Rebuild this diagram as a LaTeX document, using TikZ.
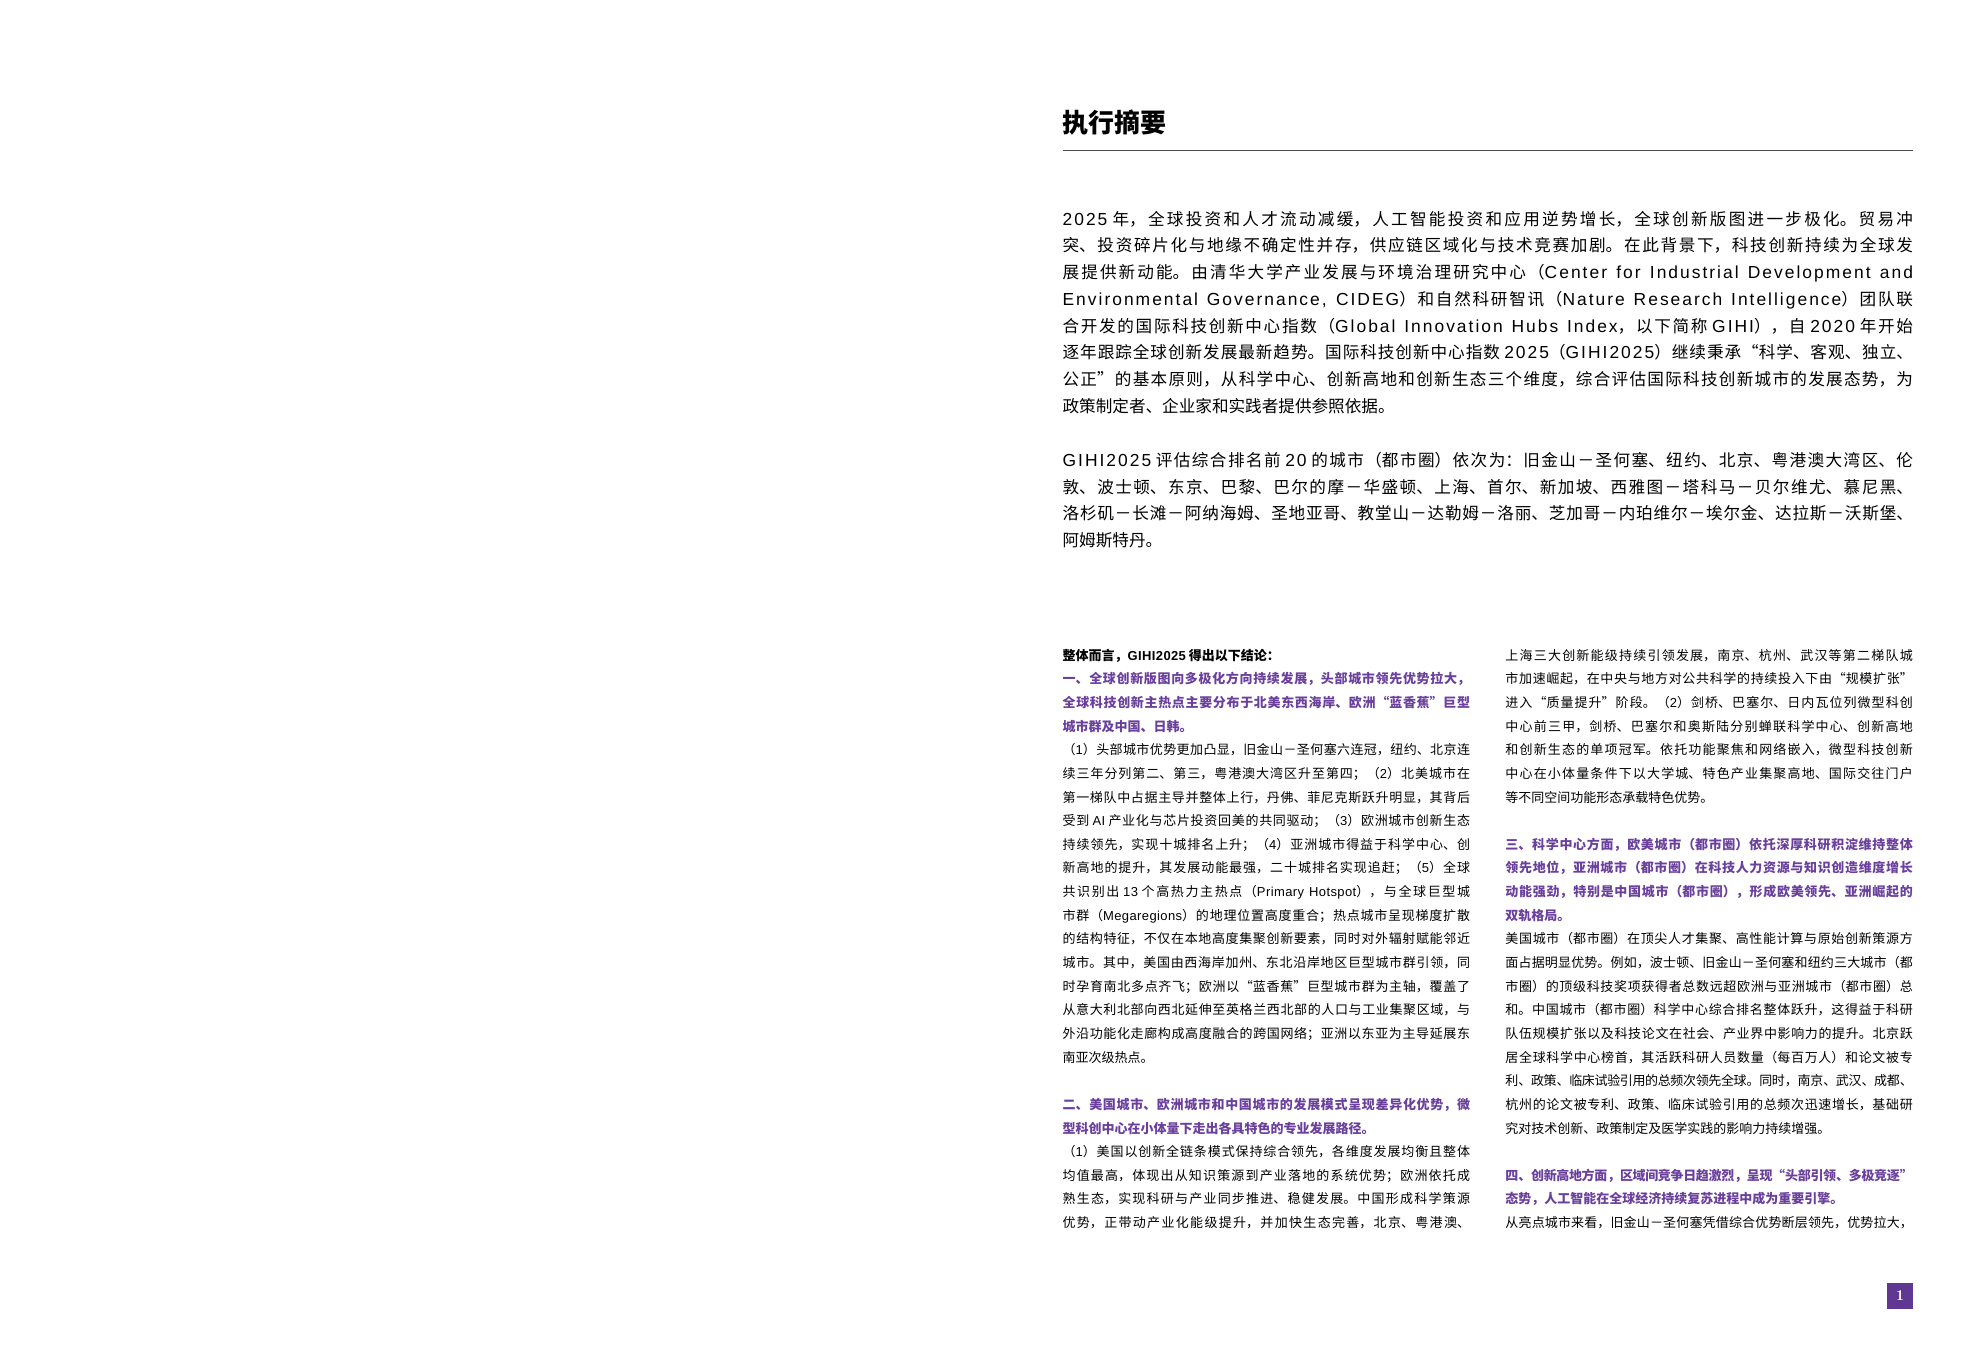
\documentclass[tikz,border=0pt]{standalone}
\usepackage{fontspec}
\setmainfont{Noto Sans CJK SC}
\newfontfamily\latfont{Liberation Sans}[LetterSpace=3]
\newfontfamily\latwide{Liberation Sans}[Scale=1.05, LetterSpace=11.5]
\usetikzlibrary{positioning}
\XeTeXlinebreaklocale "zh"
\XeTeXlinebreakskip=0pt plus 1.5pt minus 0.5pt
\definecolor{giPurple}{RGB}{106,64,156}
\definecolor{giBox}{RGB}{96,56,146}
\newcommand\hd[1]{{\bfseries\color{giPurple}#1}}
\newcommand\lat[1]{{\latfont #1}}
\newcommand\wlat[1]{{\latwide #1}}
\newcommand\lastjust{\parfillskip=0pt\par}
\newcommand\gapline{\par\vspace{11.82pt}}

\begin{document}
\begin{tikzpicture}[
  every node/.style={inner sep=0pt, outer sep=0pt},
  lead/.style={anchor=base west, text width=425.2pt, align=justify,
    font=\fontsize{8.3pt}{13.37pt}\selectfont},
  col/.style={anchor=base west, text width=203.7pt, align=justify,
    font=\fontsize{6.5pt}{11.82pt}\selectfont}]
  \fill[white] (0,0) rectangle (992pt,-673pt);
  \useasboundingbox (0,0) rectangle (992pt,-673pt);

  % heading and rule
  \node[anchor=base west, font=\fontsize{13pt}{13pt}\selectfont\bfseries] (title) at (531.3pt,-66.3pt) {执行摘要};
  \coordinate (ruleL) at (531.3pt,-75.3pt);
  \coordinate (ruleR) at (956.5pt,-75.3pt);
  \draw[line width=0.8pt, black!70] (ruleL) -- (ruleR);

  % lead paragraphs
  \node[lead] (para1) at (531.3pt,-112.6pt) {\wlat{2025} 年，全球投资和人才流动减缓，人工智能投资和应用逆势增长，全球创新版图进一步极化。贸易冲\linebreak
突、投资碎片化与地缘不确定性并存，供应链区域化与技术竞赛加剧。在此背景下，科技创新持续为全球发\linebreak
展提供新动能。由清华大学产业发展与环境治理研究中心（\wlat{Center for Industrial Development and}\linebreak
\wlat{Environmental Governance, CIDEG}）和自然科研智讯（\wlat{Nature Research Intelligence}）团队联\linebreak
合开发的国际科技创新中心指数（\wlat{Global Innovation Hubs Index}，以下简称 \wlat{GIHI}），自 \wlat{2020} 年开始\linebreak
逐年跟踪全球创新发展最新趋势。国际科技创新中心指数 \wlat{2025}（\wlat{GIHI2025}）继续秉承“科学、客观、独立、\linebreak
公正”的基本原则，从科学中心、创新高地和创新生态三个维度，综合评估国际科技创新城市的发展态势，为\linebreak
政策制定者、企业家和实践者提供参照依据。};

  \node[lead] (para2) at (531.3pt,-233.2pt) {\wlat{GIHI2025} 评估综合排名前 \wlat{20} 的城市（都市圈）依次为：旧金山－圣何塞、纽约、北京、粤港澳大湾区、伦\linebreak
敦、波士顿、东京、巴黎、巴尔的摩－华盛顿、上海、首尔、新加坡、西雅图－塔科马－贝尔维尤、慕尼黑、\linebreak
洛杉矶－长滩－阿纳海姆、圣地亚哥、教堂山－达勒姆－洛丽、芝加哥－内珀维尔－埃尔金、达拉斯－沃斯堡、\linebreak
阿姆斯特丹。};

  % two columns
  \node[col] (colL) at (531.3pt,-330.1pt) {{\bfseries 整体而言，\lat{GIHI2025} 得出以下结论：}\par
\hd{一、全球创新版图向多极化方向持续发展，头部城市领先优势拉大，\linebreak
全球科技创新主热点主要分布于北美东西海岸、欧洲“蓝香蕉”巨型\linebreak
城市群及中国、日韩。}\par
（\lat{1}）头部城市优势更加凸显，旧金山－圣何塞六连冠，纽约、北京连\linebreak
续三年分列第二、第三，粤港澳大湾区升至第四；（\lat{2}）北美城市在\linebreak
第一梯队中占据主导并整体上行，丹佛、菲尼克斯跃升明显，其背后\linebreak
受到 \lat{AI} 产业化与芯片投资回美的共同驱动；（\lat{3}）欧洲城市创新生态\linebreak
持续领先，实现十城排名上升；（\lat{4}）亚洲城市得益于科学中心、创\linebreak
新高地的提升，其发展动能最强，二十城排名实现追赶；（\lat{5}）全球\linebreak
共识别出 \lat{13} 个高热力主热点（\lat{Primary Hotspot}），与全球巨型城\linebreak
市群（\lat{Megaregions}）的地理位置高度重合；热点城市呈现梯度扩散\linebreak
的结构特征，不仅在本地高度集聚创新要素，同时对外辐射赋能邻近\linebreak
城市。其中，美国由西海岸加州、东北沿岸地区巨型城市群引领，同\linebreak
时孕育南北多点齐飞；欧洲以“蓝香蕉”巨型城市群为主轴，覆盖了\linebreak
从意大利北部向西北延伸至英格兰西北部的人口与工业集聚区域，与\linebreak
外沿功能化走廊构成高度融合的跨国网络；亚洲以东亚为主导延展东\linebreak
南亚次级热点。\gapline
\hd{二、美国城市、欧洲城市和中国城市的发展模式呈现差异化优势，微\linebreak
型科创中心在小体量下走出各具特色的专业发展路径。}\par
（\lat{1}）美国以创新全链条模式保持综合领先，各维度发展均衡且整体\linebreak
均值最高，体现出从知识策源到产业落地的系统优势；欧洲依托成\linebreak
熟生态，实现科研与产业同步推进、稳健发展。中国形成科学策源\linebreak
优势，正带动产业化能级提升，并加快生态完善，北京、粤港澳、\lastjust};

  \node[col] (colR) at (752.7pt,-330.1pt) {上海三大创新能级持续引领发展，南京、杭州、武汉等第二梯队城\linebreak
市加速崛起，在中央与地方对公共科学的持续投入下由“规模扩张”\linebreak
进入“质量提升”阶段。（\lat{2}）剑桥、巴塞尔、日内瓦位列微型科创\linebreak
中心前三甲，剑桥、巴塞尔和奥斯陆分别蝉联科学中心、创新高地\linebreak
和创新生态的单项冠军。依托功能聚焦和网络嵌入，微型科技创新\linebreak
中心在小体量条件下以大学城、特色产业集聚高地、国际交往门户\linebreak
等不同空间功能形态承载特色优势。\gapline
\hd{三、科学中心方面，欧美城市（都市圈）依托深厚科研积淀维持整体\linebreak
领先地位，亚洲城市（都市圈）在科技人力资源与知识创造维度增长\linebreak
动能强劲，特别是中国城市（都市圈），形成欧美领先、亚洲崛起的\linebreak
双轨格局。}\par
美国城市（都市圈）在顶尖人才集聚、高性能计算与原始创新策源方\linebreak
面占据明显优势。例如，波士顿、旧金山－圣何塞和纽约三大城市（都\linebreak
市圈）的顶级科技奖项获得者总数远超欧洲与亚洲城市（都市圈）总\linebreak
和。中国城市（都市圈）科学中心综合排名整体跃升，这得益于科研\linebreak
队伍规模扩张以及科技论文在社会、产业界中影响力的提升。北京跃\linebreak
居全球科学中心榜首，其活跃科研人员数量（每百万人）和论文被专\linebreak
利、政策、临床试验引用的总频次领先全球。同时，南京、武汉、成都、\linebreak
杭州的论文被专利、政策、临床试验引用的总频次迅速增长，基础研\linebreak
究对技术创新、政策制定及医学实践的影响力持续增强。\gapline
\hd{四、创新高地方面，区域间竞争日趋激烈，呈现“头部引领、多极竞逐”\linebreak
态势，人工智能在全球经济持续复苏进程中成为重要引擎。}\par
从亮点城市来看，旧金山－圣何塞凭借综合优势断层领先，优势拉大，\lastjust};

  % page number
  \node[fill=giBox, minimum size=13pt, text=white,
    font=\fontfamily{lmr}\fontsize{7.5pt}{7.5pt}\selectfont\bfseries] (pgno) at (950pt,-648pt) {1};
\end{tikzpicture}
\end{document}
